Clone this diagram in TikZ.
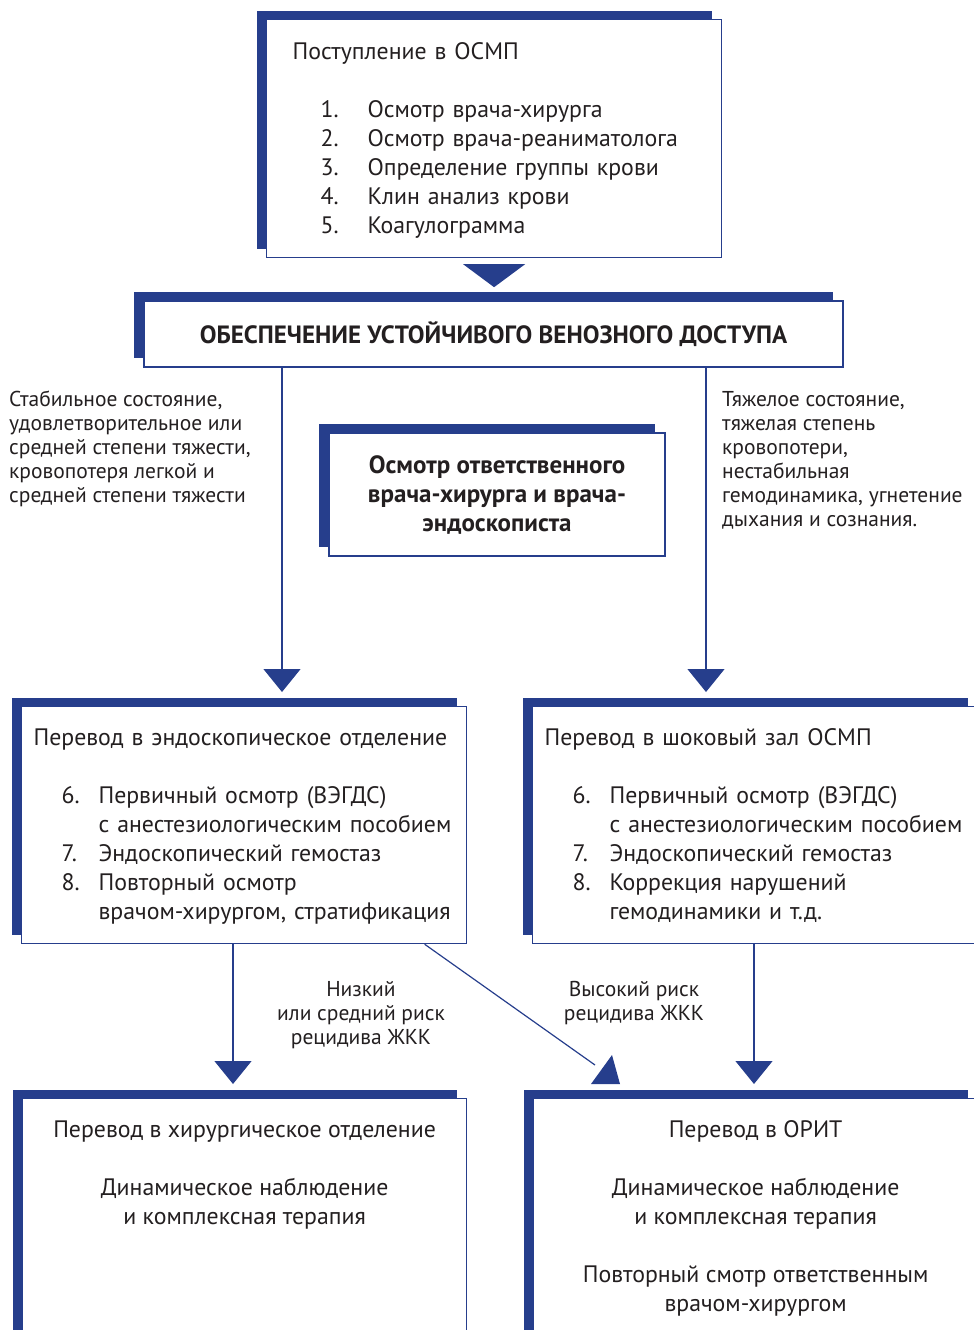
\documentclass[tikz,border=0pt]{standalone}
\usepackage{fontspec}
\setmainfont{PT Sans}
\usepackage{xcolor}
\usepackage{tikz}
\usetikzlibrary{positioning, arrows.meta, shadows}
\definecolor{navy}{HTML}{263E8C}
\definecolor{ink}{HTML}{231F20}
\newcommand{\bodyfont}{\fontsize{23.8}{29}\selectfont}
\newcommand{\notefont}{\fontsize{21.5}{24}\selectfont}
\newcommand{\headfont}{\fontsize{25}{29}\selectfont\bfseries}

\begin{document}
\begin{tikzpicture}[x=1pt, y=-1pt,
    panel/.style={draw=navy, fill=white, line width=1.2pt, inner sep=0pt, text=ink,
      general shadow={fill=navy, draw=none, shadow xshift=-10pt, shadow yshift=9pt}},
    link/.style={draw=navy, line width=1.2pt, shorten >=14pt,
      -{Triangle[length=0.1pt, width=0.1pt, sep=6pt] Triangle[length=23pt, width=37pt]}},
    note/.style={align=left, text=ink, font=\notefont, inner sep=0pt}]
  \useasboundingbox (0,0) rectangle (974,1330);

  \node[panel, anchor=north west, text width=403pt, minimum height=238pt,
        inner xsep=26pt, align=left, font=\bodyfont] (admit) at (266,19) {%
    \rule{0pt}{24pt}Поступление в ОСМП\\[29pt]
    \hspace*{28pt}\begin{tabular}[t]{@{}p{47pt}@{}l@{}}
      1. & Осмотр врача-хирурга\\
      2. & Осмотр врача-реаниматолога\\
      3. & Определение группы крови\\
      4. & Клин анализ крови\\
      5. & Коагулограмма
    \end{tabular}};

  \node[panel, minimum width=699pt, minimum height=66pt, font=\headfont]
    (access) at (493.5,334) {ОБЕСПЕЧЕНИЕ УСТОЙЧИВОГО ВЕНОЗНОГО ДОСТУПА};

  \node[panel, minimum width=336pt, minimum height=123pt, align=center,
        font=\headfont] (exam) at (497,494.5)
    {Осмотр ответственного\\врача-хирурга и врача-\\эндоскописта};

  \node[note, anchor=north west] (stable) at (9,391) {%
    Стабильное состояние,\\удовлетворительное или\\средней степени тяжести,\\
    кровопотеря легкой и\\средней степени тяжести};
  \node[note, anchor=north west] (severe) at (722,391) {%
    Тяжелое состояние,\\тяжелая степень\\кровопотери,\\нестабильная\\
    гемодинамика, угнетение\\дыхания и сознания.};

  \node[panel, anchor=north west, text width=421pt, minimum height=237pt,
        inner xsep=12pt, align=left, font=\bodyfont] (endo) at (21,706) {%
    \rule{0pt}{24pt}Перевод в эндоскопическое отделение\\[29pt]
    \hspace*{28pt}\begin{tabular}[t]{@{}p{37pt}@{}l@{}}
      6. & Первичный осмотр (ВЭГДС)\\
         & с анестезиологическим пособием\\
      7. & Эндоскопический гемостаз\\
      8. & Повторный осмотр\\
         & врачом-хирургом, стратификация
    \end{tabular}};

  \node[panel, anchor=north west, text width=421pt, minimum height=237pt,
        inner xsep=12pt, align=left, font=\bodyfont] (shock) at (532,706) {%
    \rule{0pt}{24pt}Перевод в шоковый зал ОСМП\\[29pt]
    \hspace*{28pt}\begin{tabular}[t]{@{}p{37pt}@{}l@{}}
      6. & Первичный осмотр (ВЭГДС)\\
         & с анестезиологическим пособием\\
      7. & Эндоскопический гемостаз\\
      8. & Коррекция нарушений\\
         & гемодинамики и т.д.
    \end{tabular}};

  \node[panel, anchor=north west, font=\bodyfont] (surgery) at (22,1098) {%
    \parbox[t][250pt][t]{444pt}{\centering\rule{0pt}{39pt}%
      Перевод в хирургическое отделение\\[29pt]
      Динамическое наблюдение\\и комплексная терапия}};

  \node[panel, anchor=north west, font=\bodyfont] (icu) at (533,1098) {%
    \parbox[t][250pt][t]{444pt}{\centering\rule{0pt}{39pt}%
      Перевод в ОРИТ\\[29pt]
      Динамическое наблюдение\\и комплексная терапия\\[29pt]
      Повторный смотр ответственным\\врачом-хирургом}};

  \node[note, align=center] (lowrisk) at (361,1015)
    {Низкий\\или средний риск\\рецидива ЖКК};
  \node[note, align=center] (highrisk) at (634,1003)
    {Высокий риск\\рецидива ЖКК};

  % connectors
  \coordinate (stableway) at (282,0);
  \coordinate (severeway) at (706,0);
  \coordinate (lowway) at (233,0);
  \coordinate (highway) at (754,0);
  \coordinate (riskend) at (595,1065);

  \fill[navy] (admit.south) ++(-31,6) -- ++(62,0) -- ++(-31,23) -- cycle;
  \draw[link] (access.south -| stableway) -- (endo.north -| stableway);
  \draw[link] (access.south -| severeway) -- (shock.north -| severeway);
  \draw[link] (endo.south -| lowway) -- (surgery.north -| lowway);
  \draw[link] (shock.south -| highway) -- (icu.north -| highway);
  \draw[navy, line width=1.2pt] ([xshift=180.5pt]endo.south) -- (riskend);
  \fill[navy] (591,1084) -- (620,1084) -- (612,1055) -- cycle;
\end{tikzpicture}
\end{document}
